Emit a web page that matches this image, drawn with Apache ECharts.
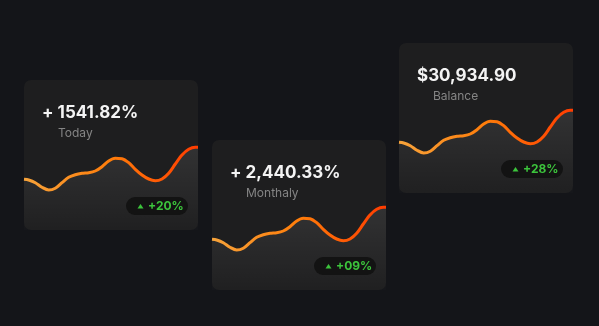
<!DOCTYPE html>
<html><head><meta charset="utf-8">
<script src="https://cdn.jsdelivr.net/npm/echarts@6/dist/echarts.min.js"></script>
<style>html,body{margin:0;padding:0;background:#141519;}#c{width:599px;height:326px;}</style>
</head><body><div id="c"></div>
<script>
// ---- data ----
const titles = ['+ 1541.82%', '+ 2,440.33%', '$30,934.90'];
const labels = ['Today', 'Monthaly', 'Balance'];
const badges = ['+20%', '+09%', '+28%'];
const xPos = [0, 4.7, 11.3, 18, 24.7, 31.3, 38, 44.7, 51.3, 58, 64.7, 71.3, 78, 84.7, 91.3, 98, 104.7, 111.3, 118, 124.7, 131.3, 138, 144.7, 151.3, 158, 164.7, 171.3, 174];
const todayValues   = [50.7, 50, 47.3, 42.7, 40, 41.7, 47.3, 52.7, 55.3, 56.7, 57.3, 59, 63.3, 69, 71.7, 71.3, 67.3, 60.7, 55, 51, 49.3, 51, 56.7, 66, 75, 80.7, 82.7, 82.7];
const monthlyValues = [50.7, 50, 47.3, 42.7, 40, 41.7, 47.3, 52.7, 55.3, 56.7, 57.3, 59, 63.3, 69, 71.7, 71.3, 67.3, 60.7, 55, 51, 49.3, 51, 56.7, 66, 75, 80.7, 82.7, 82.7];
const balanceValues = [50.7, 50, 47.3, 42.7, 40, 41.7, 47.3, 52.7, 55.3, 56.7, 57.3, 59, 63.3, 69, 71.7, 71.3, 67.3, 60.7, 55, 51, 49.3, 51, 56.7, 66, 75, 80.7, 82.7, 82.7];
const seriesValues = [todayValues, monthlyValues, balanceValues];

// ---- layout ----
const cardPos = [[24, 80], [212, 140], [399, 43]];
const CW = 174, CH = 150;
const FONT = 'Inter, "Noto Sans", sans-serif';

const chart = echarts.init(document.getElementById('c'), null, {renderer: 'canvas'});
const grids = [], xAxes = [], yAxes = [], series = [], graphics = [];
cardPos.forEach(([cx, cy], i) => {
  grids.push({left: cx, top: cy, width: CW, height: CH});
  xAxes.push({type: 'value', gridIndex: i, min: 0, max: CW, show: false});
  yAxes.push({type: 'value', gridIndex: i, min: 0, max: CH, show: false});
  series.push({
    type: 'line', xAxisIndex: i, yAxisIndex: i, smooth: 0.3, symbol: 'none', z: 5,
    data: xPos.map((x, j) => [x, seriesValues[i][j]]),
    lineStyle: {width: 3, color: new echarts.graphic.LinearGradient(0, 0, 1, 0, [
      {offset: 0, color: '#f6a43c'}, {offset: 0.5, color: '#ff7d0a'}, {offset: 1, color: '#ff3a00'}])},
    areaStyle: {color: new echarts.graphic.LinearGradient(0, 0, 0, 1, [
      {offset: 0, color: 'rgba(255,255,255,0.13)'}, {offset: 1, color: 'rgba(255,255,255,0.01)'}])}
  });
  graphics.push({type: 'rect', z: 0, shape: {x: cx, y: cy, width: CW, height: CH, r: 7}, style: {fill: '#1e1e1f'}});
  graphics.push({type: 'text', z: 20, x: cx + 18, y: cy + 33, style: {text: titles[i], fill: '#f4f4f4', font: '700 17px ' + FONT, textVerticalAlign: 'middle'}});
  graphics.push({type: 'text', z: 20, x: cx + 34, y: cy + 53, style: {text: labels[i], fill: '#858585', font: '400 12px ' + FONT, textVerticalAlign: 'middle'}});
  const bx = cx + 102, by = cy + 117;
  graphics.push({type: 'rect', z: 20, shape: {x: bx, y: by, width: 62, height: 18, r: 9}, style: {fill: '#131313'}});
  graphics.push({type: 'polygon', z: 21, shape: {points: [[bx + 11.5, by + 11.5], [bx + 17.5, by + 11.5], [bx + 14.5, by + 7]]}, style: {fill: '#3cc43c'}});
  graphics.push({type: 'text', z: 21, x: bx + 22, y: by + 9.5, style: {text: badges[i], fill: '#3cc43c', font: '700 12px ' + FONT, textVerticalAlign: 'middle'}});
});

chart.setOption({
  backgroundColor: '#141519',
  animation: false,
  grid: grids, xAxis: xAxes, yAxis: yAxes, series: series,
  graphic: graphics
});
</script></body></html>
